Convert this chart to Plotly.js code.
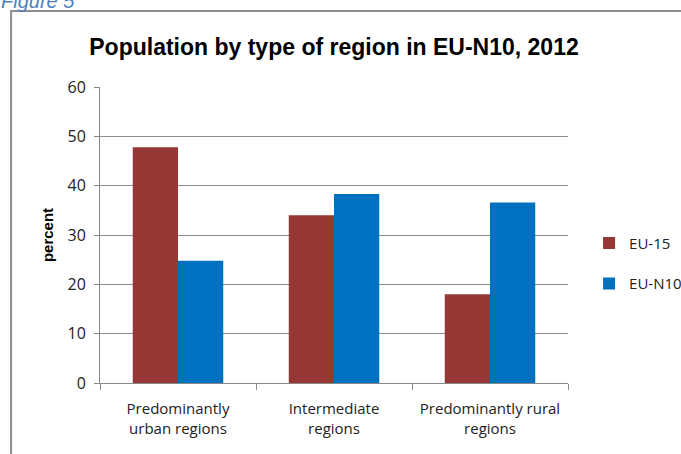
<!DOCTYPE html>
<html lang="en">
<head>
    <meta charset="UTF-8">
    <title>Population by type of region in EU-N10, 2012</title>
    <script src="https://cdn.plot.ly/plotly-3.0.1.min.js"></script>
    <style>
        body { margin: 0; background: #fff; }
        #chart { width: 681px; height: 454px; }
    </style>
</head>
<body>
    <div id="chart"></div>
    <script>
        // data
        const regions = ["Predominantly<br>urban regions", "Intermediate<br>regions", "Predominantly rural<br>regions"];
        const eu15 = [47.8, 34.0, 18.0];
        const euN10 = [24.8, 38.3, 36.6];
        const yTicks = [0, 10, 20, 30, 40, 50, 60];

        const fontFam = "'Open Sans', Arial, sans-serif";

        const traces = [
            { x: regions, y: eu15, name: "EU-15", type: "bar", legendgroup: "a",
              marker: { color: "#953735" } },
            { x: regions, y: euN10, name: "EU-N10", type: "bar", legendgroup: "b",
              marker: { color: "#0070C0" } }
        ];

        const layout = {
            width: 681,
            height: 454,
            margin: { l: 100, r: 113, t: 87, b: 71 },
            paper_bgcolor: "#fff",
            plot_bgcolor: "#fff",
            font: { family: fontFam, color: "#222" },
            title: {
                text: "<b>Population by type of region in EU-N10, 2012</b>",
                font: { family: "Arial, sans-serif", size: 23, color: "#000" },
                x: 0.5, xref: "paper", xanchor: "center", y: 0.896, yanchor: "middle"
            },
            bargap: 0.42,
            bargroupgap: 0,
            xaxis: {
                type: "category",
                showline: true, linecolor: "#888", linewidth: 1,
                ticks: "outside", tickson: "boundaries", ticklen: 6, tickcolor: "#888",
                tickangle: 0, ticklabelstandoff: 12,
                tickfont: { size: 15, color: "#222" },
                showgrid: false
            },
            yaxis: {
                range: [0, 60],
                tickvals: yTicks,
                showline: true, linecolor: "#888", linewidth: 1,
                ticks: "outside", ticklen: 5, tickcolor: "#888",
                ticklabelstandoff: 5,
                gridcolor: "#8c8c8c", gridwidth: 1,
                tickfont: { size: 16, color: "#222" },
                zeroline: false,
                title: { text: "<b>percent</b>", font: { size: 15, color: "#000", family: "Arial, sans-serif" }, standoff: 10 }
            },
            legend: {
                xref: "container", yref: "container",
                x: 0.865, xanchor: "left", y: 0.42, yanchor: "middle",
                font: { size: 15, color: "#222" },
                traceorder: "grouped", tracegroupgap: 18,
                itemwidth: 30
            },
            shapes: [
                { type: "rect", xref: "paper", yref: "paper",
                  x0: -0.19, x1: 1.3, y0: -0.3, y1: 1.257,
                  line: { color: "#8c8c8c", width: 2 } }
            ],
            annotations: [
                { text: "<i>Figure 5</i>", xref: "paper", yref: "paper",
                  x: -0.215, y: 1.248, xanchor: "left", yanchor: "bottom",
                  showarrow: false, font: { size: 20, color: "#4F81BD", family: "Arial, sans-serif" } }
            ]
        };

        Plotly.newPlot("chart", traces, layout, { displayModeBar: false, staticPlot: true });
    </script>
</body>
</html>
